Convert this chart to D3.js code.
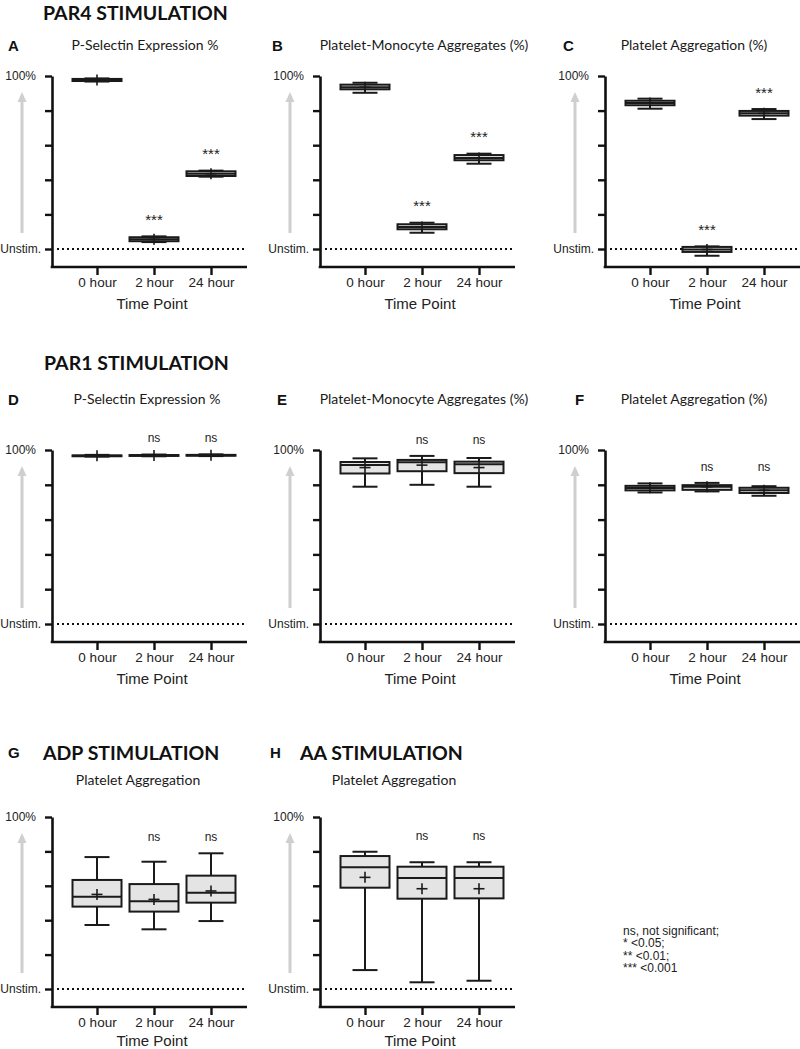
<!DOCTYPE html>
<html><head><meta charset="utf-8">
<script src="https://cdn.jsdelivr.net/npm/d3@7"></script>
<style>body{margin:0;background:#fff} svg{display:block}</style>
</head><body><svg id="c" width="800" height="1049"></svg>
<script>
// ---------- DATA ----------
const categories = ["0 hour", "2 hour", "24 hour"];
const yTickValues = [0, 20, 40, 60, 80, 100];
const yTickNames = {0: "Unstim.", 100: "100%"};
// each entry: [min, q1, median, q3, max, mean] (% of max response)
const par4PSelectin = [[96.8, 97.1, 97.7, 98.3, 98.6, 97.7], [4.0, 4.5, 5.6, 6.8, 7.3, 5.6], [41.8, 42.2, 43.5, 44.9, 45.3, 43.5]];
const par4PMA = [[90.3, 92.3, 93.5, 95.0, 96.1, 93.5], [9.4, 11.4, 12.7, 14.3, 15.2, 12.7], [49.3, 51.3, 52.6, 54.3, 55.1, 52.6]];
const par4Aggregation = [[81.1, 83.1, 84.4, 85.7, 86.9, 84.4], [-3.9, -1.7, -0.3, 1.2, 1.5, -0.3], [75.1, 77.1, 78.4, 79.8, 80.9, 78.4]];
const par1PSelectin = [[96.2, 96.4, 96.7, 96.9, 97.2, 96.7], [96.4, 96.6, 96.9, 97.1, 97.4, 96.9], [96.5, 96.7, 97.0, 97.2, 97.5, 97.0]];
const par1PMA = [[78.9, 86.5, 91.4, 93.1, 95.2, 89.9], [80.0, 87.8, 93.0, 94.3, 96.6, 91.3], [78.9, 86.7, 91.8, 93.3, 95.4, 89.9]];
const par1Aggregation = [[75.6, 76.8, 78.2, 79.4, 80.8, 78.3], [76.2, 77.1, 78.9, 79.8, 81.1, 78.9], [73.7, 75.3, 76.8, 78.3, 79.2, 76.8]];
const adpAggregation = [[37.2, 47.9, 53.7, 63.4, 76.7, 55.0], [34.7, 45.0, 51.0, 61.0, 74.0, 52.1], [39.5, 50.2, 56.0, 65.9, 78.9, 57.0]];
const aaAggregation = [[11.0, 58.9, 70.8, 77.3, 79.8, 64.9], [3.9, 52.5, 64.5, 71.1, 73.7, 58.3], [4.8, 52.7, 64.5, 71.1, 73.7, 58.3]];
const sigPAR4 = ["", "***", "***"];
const sigOther = ["", "ns", "ns"];
const sectionTitles = ["PAR4 STIMULATION", "PAR1 STIMULATION", "ADP STIMULATION", "AA STIMULATION"];
const legendLines = ["ns, not significant;", "* <0.05;", "** <0.01;", "*** <0.001"];

// ---------- LAYOUT ----------
const svg = d3.select("#c");
const ARIAL = "'Liberation Sans', Arial, sans-serif";
const CAL = "Lato, 'Open Sans', sans-serif";
const rows = [{top: 76, zero: 249}, {top: 450, zero: 624}, {top: 817, zero: 989}];
const cols = [52, 320, 605];

const panels = [
  {letter: "A", lx: 8,   row: 0, col: 0, title: "P-Selectin Expression %", tcx: 145, data: par4PSelectin, sig: sigPAR4},
  {letter: "B", lx: 272, row: 0, col: 1, title: "Platelet-Monocyte Aggregates (%)", tcx: 424, data: par4PMA, sig: sigPAR4},
  {letter: "C", lx: 563, row: 0, col: 2, title: "Platelet Aggregation (%)", tcx: 694, data: par4Aggregation, sig: sigPAR4},
  {letter: "D", lx: 8,   row: 1, col: 0, title: "P-Selectin Expression %", tcx: 147, data: par1PSelectin, sig: sigOther},
  {letter: "E", lx: 277, row: 1, col: 1, title: "Platelet-Monocyte Aggregates (%)", tcx: 424, data: par1PMA, sig: sigOther},
  {letter: "F", lx: 575, row: 1, col: 2, title: "Platelet Aggregation (%)", tcx: 694, data: par1Aggregation, sig: sigOther},
  {letter: "G", lx: 8,   row: 2, col: 0, title: "Platelet Aggregation", tcx: 138, data: adpAggregation, sig: sigOther},
  {letter: "H", lx: 270, row: 2, col: 1, title: "Platelet Aggregation", tcx: 394, data: aaAggregation, sig: sigOther}
];
const letterY = [51, 405, 758];
const titleY = [50, 404, 785];
const timePointDy = [42, 42, 39];

// section titles
const secPos = [[43, 20], [44, 370], [43, 760], [300, 760]];
sectionTitles.forEach((t, i) => {
  svg.append("text").attr("x", secPos[i][0]).attr("y", secPos[i][1])
    .attr("font-family", CAL).attr("font-weight", 700).attr("font-size", 19.5)
    .attr("fill", "#111").text(t);
});

panels.forEach(p => {
  const r = rows[p.row];
  const ax = cols[p.col];
  const pxPerUnit = (r.zero - r.top) / 100;
  const yMin = -18 / pxPerUnit;
  const y = d3.scaleLinear().domain([yMin, 100]).range([r.zero + 18, r.top]);
  const x = d3.scalePoint().domain(categories).range([ax + 45, ax + 159]);
  const g = svg.append("g");

  // letter & title
  g.append("text").attr("x", p.lx).attr("y", letterY[p.row])
    .attr("font-family", ARIAL).attr("font-weight", 700).attr("font-size", 15).attr("fill", "#111").text(p.letter);
  g.append("text").attr("x", p.tcx).attr("y", titleY[p.row]).attr("text-anchor", "middle")
    .attr("font-family", CAL).attr("font-size", 14).attr("fill", "#1a1a1a").text(p.title);

  // gray arrow
  const axArrow = ax - 30;
  g.append("line").attr("x1", axArrow).attr("x2", axArrow)
    .attr("y1", y(0) - 16).attr("y2", y(100) + 24)
    .attr("stroke", "#cfcfcf").attr("stroke-width", 3);
  g.append("path")
    .attr("d", `M${axArrow - 4.5},${y(100) + 26} L${axArrow},${y(100) + 16} L${axArrow + 4.5},${y(100) + 26} Z`)
    .attr("fill", "#cfcfcf");

  // dotted unstim line
  g.append("line").attr("x1", ax + 5).attr("x2", ax + 195)
    .attr("y1", y(0)).attr("y2", y(0))
    .attr("stroke", "#111").attr("stroke-width", 2.2).attr("stroke-dasharray", "2,3");

  // y axis
  const yAxis = d3.axisLeft(y).tickValues(yTickValues).tickSize(7).tickSizeOuter(0).tickPadding(4)
    .tickFormat(v => yTickNames[v] || "");
  const ya = g.append("g").attr("transform", `translate(${ax},0)`).call(yAxis);
  ya.select(".domain").attr("stroke", "#111").attr("stroke-width", 2.6);
  ya.selectAll(".tick line").attr("stroke", "#111").attr("stroke-width", 2.4);
  ya.selectAll(".tick text").attr("font-family", ARIAL).attr("font-size", 12).attr("fill", "#222")
    .attr("dx", v => v === 100 ? -5 : 0);

  // x axis
  const xAxis = d3.axisBottom(x).tickSize(8).tickSizeOuter(0).tickPadding(2);
  const xa = g.append("g").attr("transform", `translate(0,${r.zero + 18})`).call(xAxis);
  xa.select(".domain").remove();
  xa.append("line").attr("x1", ax - 1.3).attr("x2", ax + 195).attr("y1", 0).attr("y2", 0)
    .attr("stroke", "#111").attr("stroke-width", 2.6);
  xa.selectAll(".tick line").attr("stroke", "#111").attr("stroke-width", 2.4);
  xa.selectAll(".tick text").attr("font-family", ARIAL).attr("font-size", 13.5).attr("fill", "#222");
  g.append("text").attr("x", ax + 100).attr("y", r.zero + 18 + timePointDy[p.row]).attr("text-anchor", "middle")
    .attr("font-family", ARIAL).attr("font-size", 15).attr("fill", "#222").text("Time Point");

  // boxes
  const bw = 49, cw = 25, ms = 5.5, sw = 2;
  const boxes = g.selectAll("g.box").data(p.data.map((d, i) => ({cat: categories[i], d}))).join("g").attr("class", "box");
  boxes.each(function (b) {
    const s = d3.select(this);
    const cx = x(b.cat);
    const [mn, q1, md, q3, mx, mean] = b.d;
    const stroke = "#1a1a1a";
    s.append("line").attr("x1", cx).attr("x2", cx).attr("y1", y(mx)).attr("y2", y(q3)).attr("stroke", stroke).attr("stroke-width", sw);
    s.append("line").attr("x1", cx).attr("x2", cx).attr("y1", y(q1)).attr("y2", y(mn)).attr("stroke", stroke).attr("stroke-width", sw);
    s.append("line").attr("x1", cx - cw / 2).attr("x2", cx + cw / 2).attr("y1", y(mx)).attr("y2", y(mx)).attr("stroke", stroke).attr("stroke-width", sw);
    s.append("line").attr("x1", cx - cw / 2).attr("x2", cx + cw / 2).attr("y1", y(mn)).attr("y2", y(mn)).attr("stroke", stroke).attr("stroke-width", sw);
    s.append("rect").attr("x", cx - bw / 2).attr("width", bw).attr("y", y(q3)).attr("height", Math.max(0.5, y(q1) - y(q3)))
      .attr("fill", "#e4e4e4").attr("stroke", stroke).attr("stroke-width", sw);
    s.append("line").attr("x1", cx - bw / 2).attr("x2", cx + bw / 2).attr("y1", y(md)).attr("y2", y(md)).attr("stroke", stroke).attr("stroke-width", sw);
    s.append("line").attr("x1", cx - ms).attr("x2", cx + ms).attr("y1", y(mean)).attr("y2", y(mean)).attr("stroke", stroke).attr("stroke-width", 1.6);
    s.append("line").attr("x1", cx).attr("x2", cx).attr("y1", y(mean) - ms).attr("y2", y(mean) + ms).attr("stroke", stroke).attr("stroke-width", 1.6);
  });

  // significance labels
  const panelTop = d3.min(p.data, d => y(d[4]));
  p.sig.forEach((s, i) => {
    if (!s) return;
    const cx = x(categories[i]);
    if (s === "ns") {
      g.append("text").attr("x", cx).attr("y", panelTop - 12).attr("text-anchor", "middle")
        .attr("font-family", ARIAL).attr("font-size", 12).attr("fill", "#222").text(s);
    } else {
      g.append("text").attr("x", cx).attr("y", y(p.data[i][4]) - 11.4).attr("text-anchor", "middle")
        .attr("font-family", ARIAL).attr("font-size", 15).attr("fill", "#222").text(s);
    }
  });
});

// legend
legendLines.forEach((t, i) => {
  svg.append("text").attr("x", 623).attr("y", 935 + i * 12.3)
    .attr("font-family", ARIAL).attr("font-size", 12).attr("fill", "#222").text(t);
});
</script></body></html>
